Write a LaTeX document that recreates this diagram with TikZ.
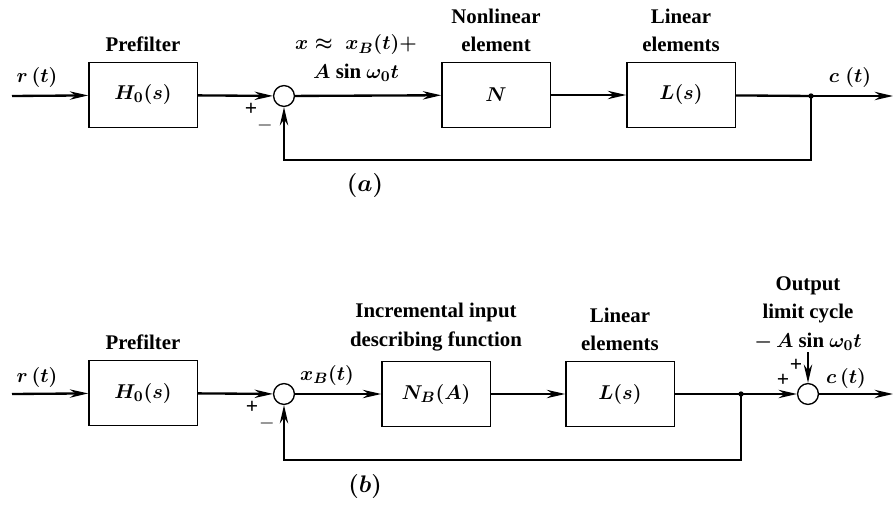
\documentclass[tikz,border=0pt]{standalone}
\usepackage{fontspec}
\setmainfont{Liberation Serif}
\usetikzlibrary{arrows.meta,positioning}

\begin{document}
\begin{tikzpicture}[x=0.6pt,y=-0.6pt,>={Stealth[length=11pt,width=5pt]},line width=1.4pt,
  font=\fontsize{12.5}{17}\selectfont\bfseries\boldmath,
  block/.style={draw,line width=0.8pt,minimum width=65pt,minimum height=39pt},
  sumnode/.style={draw,circle,line width=0.8pt,minimum size=12.5pt,inner sep=0pt},
  caption/.style={align=center},
  sign/.style={inner sep=0pt,font=\fontsize{13}{13}\selectfont\bfseries},
  panel/.style={font=\fontsize{15}{15}\selectfont\bfseries\boldmath}]
\useasboundingbox (0,0) rectangle (895,509);

% (a) describing function loop
\node[block] (pre1) at (143,95) {$H_0(s)$};
\node[caption,above=2pt of pre1] (pre1lab) {Prefilter};
\node[sumnode] (sum1) at (284,96) {};
\node[block] (nl1) at (496,95) {$N$};
\node[caption,above=2pt of nl1] (nl1lab) {Nonlinear\\element};
\node[block] (lin1) at (681,95) {$L(s)$};
\node[caption,above=2pt of lin1] (lin1lab) {Linear\\elements};
\coordinate (in1) at (12,96);
\coordinate (br1) at (811,96);
\coordinate (out1) at (893,96);
\node (r1) at (37,78) {$r\,(t)$};
\node (c1) at (850,78) {$c\;(t)$};
\node[caption] (x1) at (356,58) {$x\approx\;x_B(t)+$\\$A$ sin $\omega_0 t$};
\node[sign] (p1) at (251,109) {+};
\node[sign] (m1) at (265,126) {$-$};
\draw[->] (in1) -- (pre1);
\draw[->] (pre1) -- (sum1);
\draw[->] (sum1) -- (nl1);
\draw[->] (nl1) -- (lin1);
\draw (lin1) -- (br1);
\draw[->] (br1) -- (out1);
\fill (br1) circle (1.6pt);
\draw[->] (br1) -- ++(0,64) -| (sum1);
\node[panel] (capa) at (365,186) {$(a)$};

% (b) incremental input describing function
\node[block] (pre2) at (143,393) {$H_0(s)$};
\node[caption,above=2pt of pre2] (pre2lab) {Prefilter};
\node[sumnode] (sum2) at (284,394) {};
\node[block] (nb2) at (436,394) {$N_B(A)$};
\node[caption,above=2pt of nb2] (nb2lab) {Incremental input\\describing function};
\node[block] (lin2) at (620,394) {$L(s)$};
\node[caption,above=2pt of lin2] (lin2lab) {Linear\\elements};
\node[sumnode] (sum3) at (808,394) {};
\coordinate (in2) at (12,394);
\coordinate (br2) at (741,394);
\coordinate (out2) at (893,394);
\coordinate (lc) at (808,352);
\node[caption,above=-3pt of lc] (lclab) {Output\\limit cycle\\$-\,A$ sin $\omega_0 t$};
\node (r2) at (37,377) {$r\,(t)$};
\node (c2) at (846,378) {$c\,(t)$};
\node (x2) at (327,375) {$x_B(t)$};
\node[sign] (p2) at (252,407) {+};
\node[sign] (m2) at (267,423) {$-$};
\node[sign] (p3) at (783,380) {+};
\node[sign] (p4) at (796,365) {+};
\draw[->] (in2) -- (pre2);
\draw[->] (pre2) -- (sum2);
\draw[->] (sum2) -- (nb2);
\draw[->] (nb2) -- (lin2);
\draw (lin2) -- (br2);
\draw[->] (br2) -- (sum3);
\draw[->] (lc) -- (sum3);
\draw[->] (sum3) -- (out2);
\fill (br2) circle (1.6pt);
\draw[->] (br2) -- ++(0,66) -| (sum2);
\node[panel] (capb) at (365,486) {$(b)$};
\end{tikzpicture}
\end{document}
